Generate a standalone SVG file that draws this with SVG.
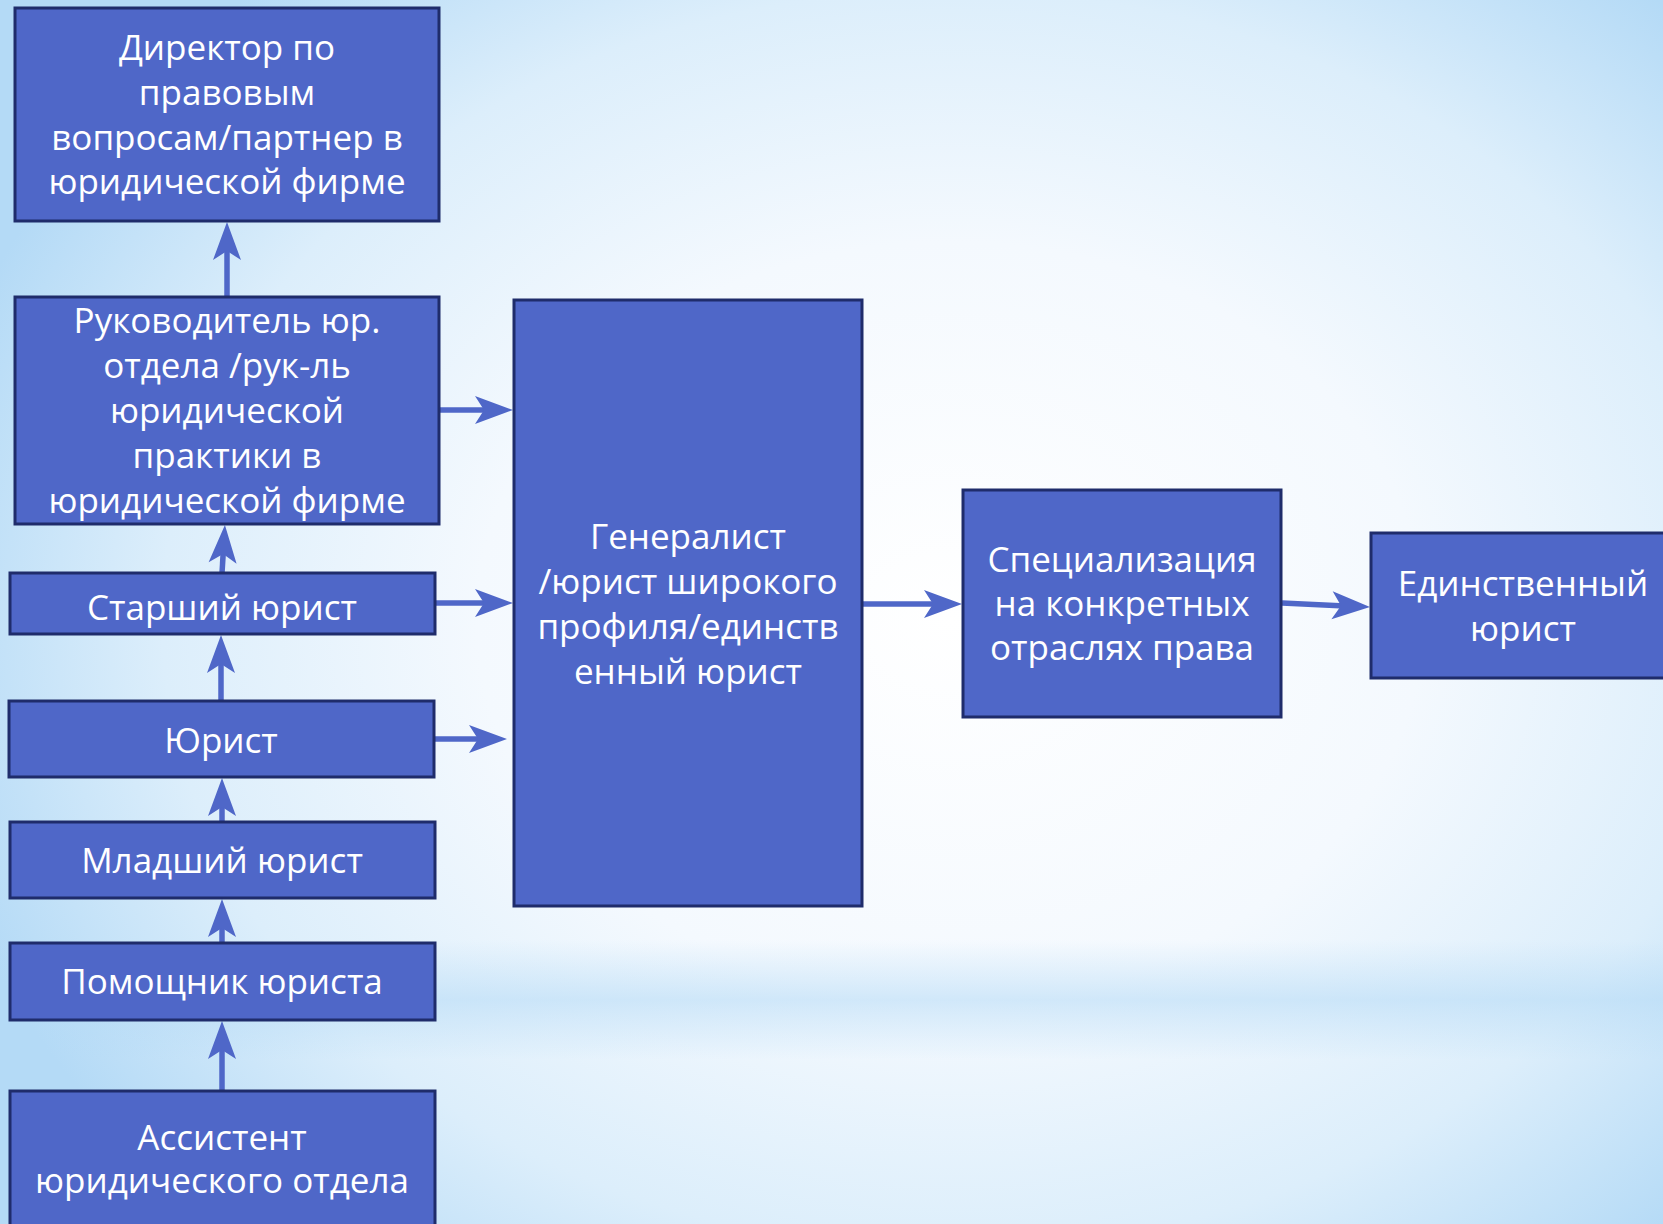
<svg xmlns="http://www.w3.org/2000/svg" width="1663" height="1224" viewBox="0 0 1663 1224">
  <style>
    .box { fill: #4F67C8; stroke: #1F2C6B; stroke-width: 3; }
    .lbl { fill: #FFFFFF; font-family: "Open Sans", "DejaVu Sans", sans-serif; font-size: 35px; text-anchor: middle; }
    .con { stroke: #4F67C8; stroke-width: 5.5; fill: none; marker-end: url(#ah); }
  </style>
  <defs>
    <radialGradient id="bg" cx="950" cy="620" r="1050" gradientUnits="userSpaceOnUse" gradientTransform="translate(950 620) scale(1 0.8) translate(-950 -620)">
      <stop offset="0" stop-color="#FFFFFF"/>
      <stop offset="0.45" stop-color="#F4F9FE"/>
      <stop offset="0.75" stop-color="#DCEEFB"/>
      <stop offset="1" stop-color="#B4DAF6"/>
    </radialGradient>
    <linearGradient id="band" x1="0" y1="0" x2="0" y2="1">
      <stop offset="0" stop-color="#B4DAF6" stop-opacity="0"/>
      <stop offset="0.5" stop-color="#B4DAF6" stop-opacity="0.55"/>
      <stop offset="1" stop-color="#B4DAF6" stop-opacity="0"/>
    </linearGradient>
    <marker id="ah" markerUnits="userSpaceOnUse" markerWidth="60" markerHeight="40" refX="0" refY="0" orient="auto" overflow="visible">
      <path d="M25,0 L-13,-14 L-4,0 L-13,14 Z" fill="#4F67C8"/>
    </marker>
  </defs>

  <rect x="0" y="0" width="1663" height="1224" fill="url(#bg)"/>
  <rect x="0" y="940" width="1663" height="120" fill="url(#band)"/>

  <g id="connectors">
    <line class="con" x1="227" y1="297" x2="227" y2="247"/>
    <line class="con" x1="222" y1="573" x2="223.4" y2="550"/>
    <line class="con" x1="221" y1="701" x2="221" y2="660"/>
    <line class="con" x1="222" y1="822" x2="222" y2="803"/>
    <line class="con" x1="222" y1="943" x2="222" y2="924"/>
    <line class="con" x1="222" y1="1091" x2="222" y2="1046"/>
    <line class="con" x1="440" y1="410" x2="488" y2="410"/>
    <line class="con" x1="435" y1="603" x2="488" y2="603"/>
    <line class="con" x1="434" y1="739" x2="482" y2="739"/>
    <line class="con" x1="863" y1="604" x2="937" y2="604"/>
    <line class="con" x1="1282" y1="603" x2="1345" y2="605.9"/>
  </g>

  <g id="n-director">
    <rect class="box" x="15" y="8" width="424" height="213"/>
    <text class="lbl" x="227" y="60">Директор по</text>
    <text class="lbl" x="227" y="105">правовым</text>
    <text class="lbl" x="227" y="150">вопросам/партнер в</text>
    <text class="lbl" x="227" y="194">юридической фирме</text>
  </g>

  <g id="n-head">
    <rect class="box" x="15" y="297" width="424" height="227"/>
    <text class="lbl" x="227" y="333">Руководитель юр.</text>
    <text class="lbl" x="227" y="378">отдела /рук-ль</text>
    <text class="lbl" x="227" y="423">юридической</text>
    <text class="lbl" x="227" y="468">практики в</text>
    <text class="lbl" x="227" y="513">юридической фирме</text>
  </g>

  <g id="n-senior">
    <rect class="box" x="10" y="573" width="425" height="61"/>
    <text class="lbl" x="222" y="620">Старший юрист</text>
  </g>

  <g id="n-lawyer">
    <rect class="box" x="9" y="701" width="425" height="76"/>
    <text class="lbl" x="221" y="753">Юрист</text>
  </g>

  <g id="n-junior">
    <rect class="box" x="10" y="822" width="425" height="76"/>
    <text class="lbl" x="222" y="873">Младший юрист</text>
  </g>

  <g id="n-helper">
    <rect class="box" x="10" y="943" width="425" height="77"/>
    <text class="lbl" x="222" y="994">Помощник юриста</text>
  </g>

  <g id="n-assistant">
    <rect class="box" x="10" y="1091" width="425" height="160"/>
    <text class="lbl" x="222" y="1150">Ассистент</text>
    <text class="lbl" x="222" y="1193">юридического отдела</text>
  </g>

  <g id="n-generalist">
    <rect class="box" x="514" y="300" width="348" height="606"/>
    <text class="lbl" x="688" y="549">Генералист</text>
    <text class="lbl" x="688" y="594">/юрист широкого</text>
    <text class="lbl" x="688" y="639">профиля/единств</text>
    <text class="lbl" x="688" y="684">енный юрист</text>
  </g>

  <g id="n-special">
    <rect class="box" x="963" y="490" width="318" height="227"/>
    <text class="lbl" x="1122" y="572">Специализация</text>
    <text class="lbl" x="1122" y="616">на конкретных</text>
    <text class="lbl" x="1122" y="660">отраслях права</text>
  </g>

  <g id="n-sole">
    <rect class="box" x="1371" y="533" width="310" height="145"/>
    <text class="lbl" x="1523" y="596">Единственный</text>
    <text class="lbl" x="1523" y="641">юрист</text>
  </g>
</svg>
